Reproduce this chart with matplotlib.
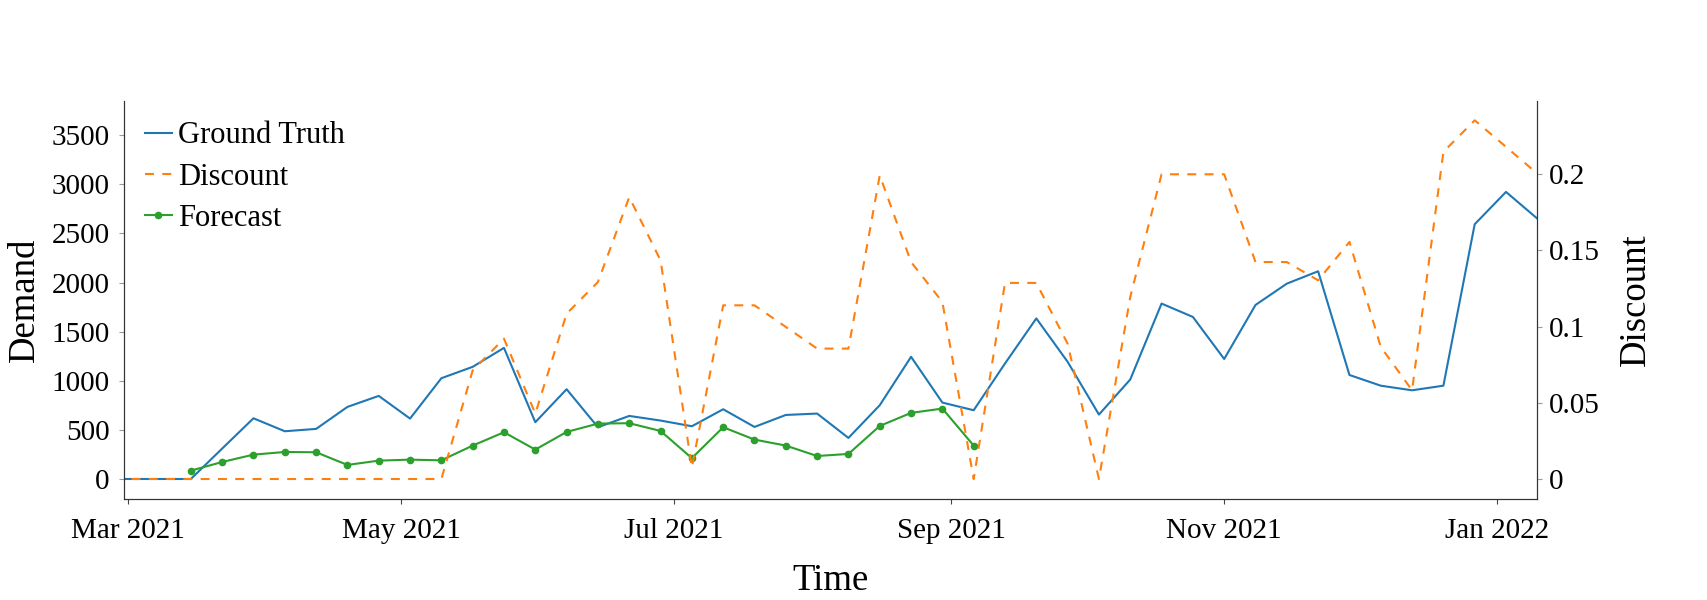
import matplotlib
matplotlib.use("Agg")
import matplotlib.pyplot as plt
import matplotlib.dates as mdates
import numpy as np
import pandas as pd

plt.rcParams['font.family'] = ['Liberation Serif', 'DejaVu Serif']

dates = pd.date_range('2021-02-22', '2022-01-10', freq='7D')

ground_truth = [0, 0, 0, 0, 310, 618, 486, 510, 734, 846, 615, 1026, 1142, 1335, 578,
                914, 527, 642, 595, 537, 710, 530, 652, 666, 418, 751, 1244, 778, 700,
                1176, 1635, 1193, 656, 1013, 1786, 1650, 1222, 1772, 1989, 2115, 1059,
                950, 903, 950, 2594, 2923, 2651]

discount = [0, 0, 0, 0, 0, 0, 0, 0, 0, 0, 0, 0, 0.0713, 0.0921, 0.0429, 0.1085, 0.1293,
            0.185, 0.1435, 0.0075, 0.114, 0.114, 0.0998, 0.0856, 0.0856, 0.1993, 0.1424,
            0.1162, 0.0, 0.1287, 0.1287, 0.0888, 0.0, 0.1195, 0.2, 0.2, 0.2, 0.1424,
            0.1424, 0.1304, 0.1556, 0.0867, 0.0582, 0.2147, 0.2354, 0.218, 0.2004]

forecast = [np.nan, np.nan, np.nan, 85, 173, 248, 275, 272, 143, 187, 197, 190, 340, 476,
            299, 479, 564, 568, 489, 212, 527, 401, 340, 234, 255, 540, 673, 717, 340] + \
           [np.nan] * 18

fig = plt.figure(figsize=(17.07, 6.0), dpi=100)
ax = fig.add_axes([0.0725, 0.1683, 0.8281, 0.6639])
ax2 = ax.twinx()

l1, = ax.plot(dates, ground_truth, color='#1f77b4', lw=1.5, label='Ground Truth')
l2, = ax2.plot(dates, discount, color='#ff7f0e', lw=1.5, linestyle=(0, (4.3, 4.0)),
               label='Discount')
l3, = ax.plot(dates, forecast, color='#2ca02c', lw=1.5, marker='o', markersize=4.5,
              label='Forecast')

ax.set_xlim(pd.Timestamp('2021-02-28'), pd.Timestamp('2022-01-10'))
ax.set_ylim(-204, 3852)
ax2.set_ylim(-0.01313, 0.2483)

ax.set_yticks([0, 500, 1000, 1500, 2000, 2500, 3000, 3500])
ax2.set_yticks([0, 0.05, 0.1, 0.15, 0.2])
ax2.set_yticklabels(['0', '0.05', '0.1', '0.15', '0.2'])

ax.xaxis.set_major_locator(mdates.MonthLocator(bymonth=[1, 3, 5, 7, 9, 11]))
ax.xaxis.set_major_formatter(mdates.DateFormatter('%b %Y'))

for a in (ax, ax2):
    a.spines['top'].set_visible(False)
    for s in a.spines.values():
        s.set_color('#333333')
ax.tick_params(axis='both', labelsize=21)
ax.tick_params(axis='y', color='#999999', pad=6.5)
ax.tick_params(axis='x', color='#444444', pad=10.5)
ax2.tick_params(axis='y', labelsize=21, color='#999999', pad=5)

ax.set_xlabel('Time', fontsize=26.5, labelpad=14)
ax.set_ylabel('Demand', fontsize=26.5, labelpad=7)
ax2.set_ylabel('Discount', fontsize=26.5, labelpad=13)

ax.legend(handles=[l1, l2, l3], loc='upper left', frameon=False, fontsize=22,
          handlelength=0.9, handletextpad=0.2, labelspacing=0.4,
          bbox_to_anchor=(0.0, 1.0), borderaxespad=0.28)

fig.savefig('out.png', dpi=100)
